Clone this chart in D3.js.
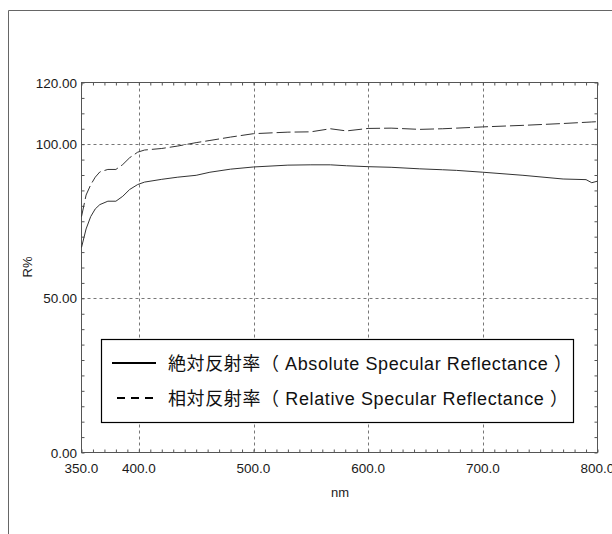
<!DOCTYPE html>
<html>
<head>
<meta charset="utf-8">
<script src="https://cdn.jsdelivr.net/npm/d3@7"></script>
<style>
  body { margin: 0; background: #fff; }
  text { font-family: "Liberation Sans", Arial, sans-serif; fill: #1a1a1a; }
  .leg text { font-family: "Liberation Sans", Arial, "Noto Sans CJK JP", sans-serif; fill: #111; }
</style>
</head>
<body>
<svg id="chart" width="612" height="534"></svg>
<script>
// wavelength (nm)
var wavelength = [350, 354, 358, 362, 366, 373, 380, 386, 392, 399, 405, 420, 434, 450, 462, 480,
                  500, 530, 550, 567, 581, 600, 620, 645, 665, 677, 700, 735, 770, 790, 795, 800];
// absolute specular reflectance (solid)
var absoluteR = [66.5, 72.5, 76.5, 79.0, 80.4, 81.5, 81.5, 83.1, 85.3, 86.9, 87.7, 88.6, 89.3, 89.9, 90.9, 91.9,
                 92.6, 93.2, 93.3, 93.3, 93.0, 92.7, 92.5, 92.0, 91.7, 91.5, 90.9, 89.9, 88.7, 88.5, 87.5, 88.0];
// relative specular reflectance (dashed)
var relativeR = [76.5, 83.5, 86.8, 89.3, 91.0, 91.8, 91.8, 93.4, 95.6, 97.4, 98.1, 98.6, 99.4, 100.5, 101.2, 102.3,
                 103.4, 103.9, 104.0, 105.0, 104.3, 105.1, 105.2, 104.8, 105.0, 105.2, 105.6, 106.1, 106.7, 107.1, 107.2, 107.3];

var xTicks = [350, 400, 500, 600, 700, 800];
var yTicks = [0, 50, 100, 120];
var xGrid = [400, 500, 600, 700];
var yGrid = [50, 100];
var legendLabels = ["絶対反射率（ Absolute Specular Reflectance ）", "相対反射率（ Relative Specular Reflectance ）"];
var legendWidths = [404, 400];

var plotL = 81.5, plotR = 597.5, plotT = 82.5, plotB = 452.5;

var svg = d3.select("#chart");

// outer frame (runs off the page on the right and bottom)
svg.append("path")
  .attr("d", "M8.5,540 L8.5,10.5 L620,10.5")
  .attr("fill", "none")
  .attr("stroke", "#666")
  .attr("stroke-width", 1);

var x = d3.scaleLinear().domain([350, 800]).range([plotL, plotR]);
var y = d3.scaleLinear().domain([0, 120]).range([plotB, plotT]);

// grid
svg.append("g").selectAll("line").data(xGrid).enter().append("line")
  .attr("x1", function(d) { return Math.round(x(d)) + 0.5; })
  .attr("x2", function(d) { return Math.round(x(d)) + 0.5; })
  .attr("y1", plotT).attr("y2", plotB)
  .attr("stroke", "#777").attr("stroke-dasharray", "3,3");

svg.append("g").selectAll("line").data(yGrid).enter().append("line")
  .attr("y1", function(d) { return Math.round(y(d)) + 0.5; })
  .attr("y2", function(d) { return Math.round(y(d)) + 0.5; })
  .attr("x1", plotL).attr("x2", plotR)
  .attr("stroke", "#777").attr("stroke-dasharray", "3,3");

// minor ticks, inward on all four sides
var xMinor = d3.range(350, 801, 10);
var yMinor = d3.range(0, 121, 5);

function styleTicks(g) {
  g.select(".domain").remove();
  g.selectAll("line").attr("stroke", "#555");
}

svg.append("g")
  .attr("transform", "translate(0," + plotB + ")")
  .call(d3.axisTop(x).tickValues(xMinor).tickSize(3).tickFormat(""))
  .call(styleTicks);
svg.append("g")
  .attr("transform", "translate(0," + plotT + ")")
  .call(d3.axisBottom(x).tickValues(xMinor).tickSize(3).tickFormat(""))
  .call(styleTicks);
svg.append("g")
  .attr("transform", "translate(" + plotL + ",0)")
  .call(d3.axisRight(y).tickValues(yMinor).tickSize(3).tickFormat(""))
  .call(styleTicks);
svg.append("g")
  .attr("transform", "translate(" + plotR + ",0)")
  .call(d3.axisLeft(y).tickValues(yMinor).tickSize(3).tickFormat(""))
  .call(styleTicks);

// plot border
svg.append("rect")
  .attr("x", plotL).attr("y", plotT)
  .attr("width", plotR - plotL).attr("height", plotB - plotT)
  .attr("fill", "none").attr("stroke", "#555").attr("stroke-width", 1);

// tick labels
svg.append("g").selectAll("text").data(xTicks).enter().append("text")
  .attr("x", function(d) { return x(d); })
  .attr("y", 473)
  .attr("text-anchor", "middle")
  .attr("font-size", 13.5)
  .text(function(d) { return d.toFixed(1); });

svg.append("g").selectAll("text").data(yTicks).enter().append("text")
  .attr("x", 77)
  .attr("y", function(d) { return y(d) + 5; })
  .attr("text-anchor", "end")
  .attr("font-size", 13.5)
  .text(function(d) { return d.toFixed(2); });

// axis titles
svg.append("text")
  .attr("x", 340).attr("y", 497)
  .attr("text-anchor", "middle")
  .attr("font-size", 13)
  .text("nm");

svg.append("text")
  .attr("transform", "translate(32,267) rotate(-90)")
  .attr("text-anchor", "middle")
  .attr("font-size", 13)
  .text("R%");

// curves
var line = d3.line()
  .x(function(d) { return x(d[0]); })
  .y(function(d) { return y(d[1]); });

svg.append("path")
  .datum(d3.zip(wavelength, absoluteR))
  .attr("d", line)
  .attr("fill", "none")
  .attr("stroke", "#333")
  .attr("stroke-width", 1);

svg.append("path")
  .datum(d3.zip(wavelength, relativeR))
  .attr("d", line)
  .attr("fill", "none")
  .attr("stroke", "#333")
  .attr("stroke-width", 1)
  .attr("stroke-dasharray", "14,4");

// legend
var leg = svg.append("g").attr("class", "leg");
leg.append("rect")
  .attr("x", 101.5).attr("y", 339.5)
  .attr("width", 472).attr("height", 83)
  .attr("fill", "#fff").attr("stroke", "#000").attr("stroke-width", 1.2);

var rows = leg.selectAll("g.row").data(legendLabels).enter().append("g")
  .attr("class", "row")
  .attr("transform", function(d, i) { return "translate(0," + (363 + i * 35) + ")"; });

rows.append("line")
  .attr("x1", 112).attr("x2", 156)
  .attr("y1", 0).attr("y2", 0)
  .attr("stroke", "#000").attr("stroke-width", 2)
  .attr("stroke-dasharray", function(d, i) { return i === 0 ? null : "8,6"; })
  .attr("stroke-dashoffset", function(d, i) { return i === 0 ? null : -5; });

rows.append("text")
  .attr("x", 168).attr("y", 6.5)
  .attr("font-size", 18)
  .attr("textLength", function(d, i) { return legendWidths[i]; })
  .attr("lengthAdjust", "spacing")
  .text(function(d) { return d; });
</script>
</body>
</html>
